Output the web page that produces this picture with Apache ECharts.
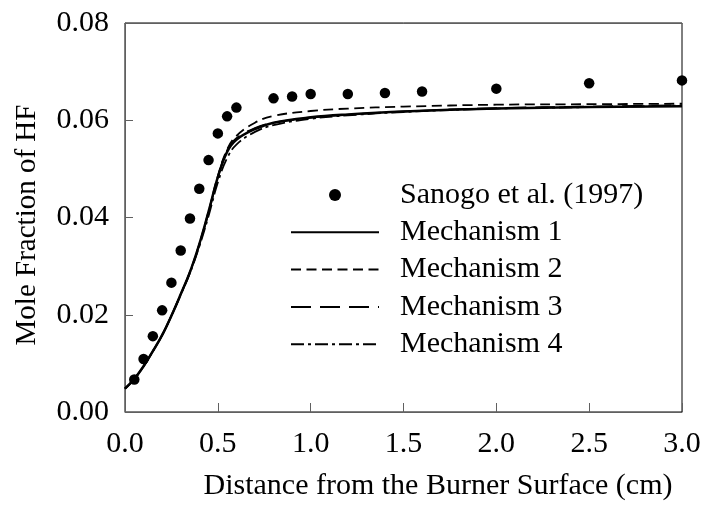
<!DOCTYPE html>
<html>
<head>
<meta charset="utf-8">
<script src="https://cdn.jsdelivr.net/npm/echarts@6/dist/echarts.min.js"></script>
<style>html,body{margin:0;padding:0;background:#fff;}#chart{width:702px;height:506px;}</style>
</head>
<body>
<div id="chart"></div>
<script>
// Experimental data (Sanogo et al. 1997)
var expX = [0.05, 0.1, 0.15, 0.2, 0.25, 0.3, 0.35, 0.4, 0.45, 0.5, 0.55, 0.6, 0.8, 0.9, 1.0, 1.2, 1.4, 1.6, 2.0, 2.5, 3.0];
var expY = [0.0067, 0.0109, 0.0156, 0.0209, 0.0266, 0.0332, 0.0398, 0.0459, 0.0518, 0.0573, 0.0608, 0.0626, 0.0645, 0.0649, 0.0654, 0.0654, 0.0656, 0.0659, 0.0665, 0.0676, 0.0682];

// Model curves
var modelX = [0, 0.05, 0.1, 0.15, 0.2, 0.25, 0.3, 0.35, 0.4, 0.45, 0.5, 0.55, 0.6, 0.7, 0.8, 1.0, 1.2, 1.5, 2.0, 2.5, 3.0];
var mech1 = [0.0048, 0.0068, 0.0094, 0.0125, 0.0158, 0.0198, 0.0242, 0.0288, 0.0345, 0.0412, 0.0483, 0.0535, 0.0560, 0.0582, 0.0595, 0.0606, 0.0612, 0.0618, 0.0624, 0.0627, 0.0629];
var mech2 = [0.0048, 0.0068, 0.0094, 0.0125, 0.0158, 0.0198, 0.0242, 0.0288, 0.0345, 0.0412, 0.0485, 0.0540, 0.0568, 0.0595, 0.0609, 0.0619, 0.0624, 0.0628, 0.0632, 0.0633, 0.0634];
var mech3 = [0.0048, 0.0068, 0.0094, 0.0125, 0.0158, 0.0198, 0.0242, 0.0288, 0.0343, 0.0410, 0.0482, 0.0538, 0.0563, 0.0584, 0.0595, 0.0605, 0.0611, 0.0618, 0.0625, 0.0628, 0.0631];
var mech4 = [0.0048, 0.0068, 0.0094, 0.0125, 0.0158, 0.0198, 0.0241, 0.0286, 0.0340, 0.0403, 0.0472, 0.0522, 0.0550, 0.0576, 0.0590, 0.0603, 0.0610, 0.0617, 0.0624, 0.0627, 0.0630];

var seriesNames = ['Sanogo et al. (1997)', 'Mechanism 1', 'Mechanism 2', 'Mechanism 3', 'Mechanism 4'];
var xTitle = 'Distance from the Burner Surface (cm)';
var yTitle = 'Mole Fraction of HF';

function pairs(xs, ys) { return xs.map(function (x, i) { return [x, ys[i]]; }); }

var FONT = '"Liberation Serif", "Times New Roman", serif';
var AXIS_GRAY = '#606060';

var chart = echarts.init(document.getElementById('chart'), null, { renderer: 'canvas' });

function lineSeries(name, data, width, type) {
  return {
    name: name, type: 'line', data: pairs(modelX, data),
    symbol: 'none', smooth: 0.4,
    lineStyle: { color: '#000', width: width, type: type },
    itemStyle: { color: '#000' },
    z: 2
  };
}

var legendData = seriesNames.map(function (n, i) {
  return i === 0 ? { name: n } : { name: n, itemStyle: { opacity: 0 } };
});

chart.setOption({
  backgroundColor: '#fff',
  animation: false,
  grid: { left: 125, right: 20, top: 23, bottom: 94, show: true, borderColor: '#000', borderWidth: 1, outerBoundsMode: 'none', containLabel: false },
  legend: {
    orient: 'vertical', left: 290, top: 180, padding: 0,
    itemWidth: 88, itemHeight: 12, itemGap: 7.3,
    data: legendData,
    textStyle: { fontFamily: FONT, fontSize: 30, color: '#000', lineHeight: 30, padding: [0, 0, 0, 16] },
    selectedMode: false
  },
  xAxis: [{
    type: 'value', min: 0, max: 3, interval: 0.5,
    name: xTitle, nameLocation: 'middle', nameGap: 59,
    nameTextStyle: { fontFamily: FONT, fontSize: 30, color: '#000', padding: [0, 0, 0, 69] },
    axisLine: { show: true, lineStyle: { color: AXIS_GRAY, width: 1 } },
    axisTick: { show: true, inside: true, length: 9, lineStyle: { color: AXIS_GRAY } },
    axisLabel: { fontFamily: FONT, fontSize: 30, color: '#000', margin: 17, formatter: function (v) { return v.toFixed(1); } },
    splitLine: { show: false }
  }, {
    type: 'value', min: 0, max: 3, position: 'top',
    axisLine: { show: true, lineStyle: { color: AXIS_GRAY, width: 1 } },
    axisTick: { show: false }, axisLabel: { show: false }, splitLine: { show: false }
  }],
  yAxis: {
    type: 'value', min: 0, max: 0.08, interval: 0.02,
    name: yTitle, nameLocation: 'middle', nameGap: 83,
    nameTextStyle: { fontFamily: FONT, fontSize: 29, color: '#000', padding: [0, 15, 0, 0] },
    axisLine: { show: true, lineStyle: { color: AXIS_GRAY, width: 1 } },
    axisTick: { show: true, inside: true, length: 8, lineStyle: { color: AXIS_GRAY } },
    axisLabel: { fontFamily: FONT, fontSize: 30, color: '#000', margin: 16, formatter: function (v) { return v.toFixed(2); } },
    splitLine: { show: false }
  },
  series: [
    {
      name: seriesNames[0], type: 'scatter', data: pairs(expX, expY),
      symbol: 'circle', symbolSize: 10.5,
      itemStyle: { color: '#000', opacity: 1 }, z: 5
    },
    lineSeries(seriesNames[1], mech1, 2.5, 'solid'),
    lineSeries(seriesNames[2], mech2, 1.8, [10, 5.5]),
    lineSeries(seriesNames[3], mech3, 1.8, [20, 9]),
    lineSeries(seriesNames[4], mech4, 1.8, [13, 4, 3, 4])
  ]
});
</script>
</body>
</html>
